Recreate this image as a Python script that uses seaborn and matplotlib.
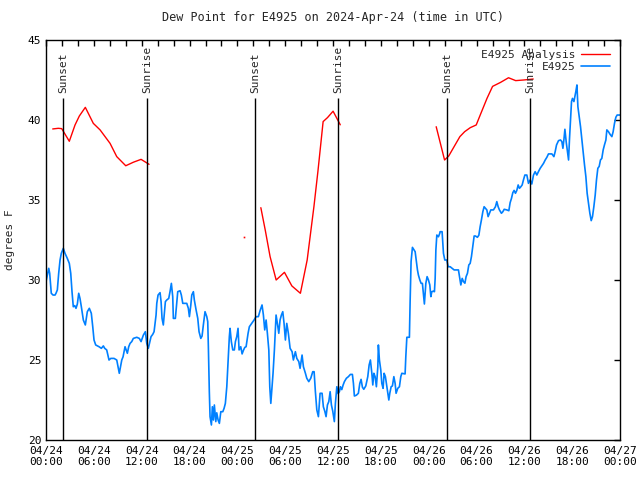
import pandas as pd
import matplotlib.pyplot as plt
import matplotlib.dates as mdates
from matplotlib.lines import Line2D
import seaborn as sns

# Observed dew point for E4925 (hours after 2024-04-24 00:00 UTC, degrees F)
obs_hours = [0.00, 0.34, 0.46, 0.66, 0.88, 1.13, 1.25, 1.42, 1.59, 1.76, 1.92, 2.17, 2.38, 2.67,
             2.92, 3.10, 3.26, 3.42, 3.60, 3.76, 3.93, 4.10, 4.26, 4.43, 4.68, 4.93, 5.18, 5.43,
             5.68, 5.86, 6.02, 6.23, 6.65, 6.94, 7.19, 7.36, 7.61, 7.90, 8.12, 8.53, 8.87, 9.19,
             9.50, 9.66, 9.91, 10.20, 10.37, 10.54, 10.75, 10.95, 11.38, 11.70, 11.92, 12.21,
             12.46, 12.63, 12.83, 13.17, 13.38, 13.55, 13.67, 13.80, 13.89, 14.05, 14.30, 14.43,
             14.55, 14.71, 14.80, 14.97, 15.14, 15.39, 15.55, 15.72, 15.89, 15.97, 16.22, 16.39,
             16.52, 16.81, 16.97, 17.15, 17.65, 17.85, 17.98, 18.15, 18.28, 18.48, 18.60, 18.82,
             19.03, 19.19, 19.41, 19.57, 19.73, 19.94, 20.16, 20.28, 20.36, 20.48, 20.57, 20.74,
             20.86, 20.99, 21.11, 21.29, 21.41, 21.58, 21.74, 21.92, 22.17, 22.33, 22.49, 22.67,
             22.83, 22.99, 23.08, 23.24, 23.42, 23.62, 23.75, 23.92, 24.08, 24.21, 24.42, 24.59,
             24.75, 24.93, 25.09, 25.34, 25.50, 25.80, 26.09, 26.34, 26.63, 26.84, 27.09, 27.26,
             27.43, 27.60, 27.76, 27.94, 28.06, 28.19, 28.31, 28.47, 28.64, 28.85, 29.01, 29.19,
             29.35, 29.52, 29.69, 29.85, 30.02, 30.19, 30.39, 30.61, 30.86, 31.02, 31.27, 31.45,
             31.70, 31.86, 32.11, 32.28, 32.53, 32.70, 32.95, 33.20, 33.45, 33.62, 33.78, 33.96,
             34.16, 34.37, 34.62, 34.78, 34.96, 35.12, 35.29, 35.46, 35.63, 35.79, 35.96, 36.16,
             36.29, 36.47, 36.63, 36.79, 36.92, 37.09, 37.26, 37.42, 37.67, 37.92, 38.17, 38.42,
             38.55, 38.67, 38.92, 39.17, 39.35, 39.51, 39.68, 39.85, 40.10, 40.35, 40.52, 40.68,
             40.86, 40.98, 41.11, 41.27, 41.43, 41.61, 41.68, 41.81, 41.98, 42.11, 42.27, 42.40,
             42.56, 42.74, 42.86, 42.99, 43.11, 43.28, 43.44, 43.62, 43.78, 43.90, 44.11, 44.32,
             44.49, 44.62, 45.03, 45.12, 45.25, 45.57, 45.66, 45.78, 45.95, 46.12, 46.29, 46.45,
             46.58, 46.70, 46.88, 47.04, 47.20, 47.38, 47.45, 47.63, 47.79, 47.96, 48.13, 48.26,
             48.38, 48.55, 48.71, 48.80, 48.89, 49.01, 49.21, 49.38, 49.42, 49.67, 49.84, 50.01,
             50.26, 50.43, 50.68, 50.93, 51.18, 51.43, 51.72, 51.85, 52.02, 52.19, 52.35, 52.53,
             52.68, 52.85, 53.02, 53.19, 53.35, 53.52, 53.69, 53.85, 54.10, 54.28, 54.44, 54.60,
             54.78, 54.94, 55.11, 55.28, 55.44, 55.61, 55.78, 56.11, 56.36, 56.53, 56.70, 56.86,
             57.11, 57.29, 57.46, 57.79, 58.04, 58.20, 58.37, 58.54, 58.70, 58.87, 59.04, 59.21,
             59.37, 59.55, 59.71, 59.87, 60.05, 60.30, 60.50, 60.71, 60.92, 61.13, 61.34, 61.55,
             61.75, 61.97, 62.18, 62.39, 62.60, 62.81, 63.01, 63.44, 63.69, 63.85, 64.02, 64.27,
             64.52, 64.69, 64.82, 64.95, 65.07, 65.24, 65.36, 65.53, 65.65, 65.77, 65.90, 66.02,
             66.20, 66.32, 66.45, 66.58, 66.70, 66.86, 67.03, 67.20, 67.36, 67.53, 67.70, 67.86,
             68.03, 68.20, 68.37, 68.53, 68.70, 68.87, 69.03, 69.20, 69.37, 69.53, 69.70, 69.87,
             70.03, 70.21, 70.33, 70.53, 70.74, 70.96, 71.12, 71.29, 71.46, 71.62, 72.00]
obs_dewpt = [29.9, 30.73, 30.42, 29.17, 29.06, 29.06, 29.17, 29.38, 30.42, 31.25, 31.67, 31.98, 31.67, 31.35,
             31.04, 30.42, 29.27, 28.33, 28.4, 28.23, 28.5, 29.17, 28.85, 28.33, 27.5, 27.19, 28.02, 28.23,
             27.92, 27.08, 26.25, 25.94, 25.83, 25.73, 25.88, 25.73, 25.63, 25.0, 25.1, 25.1, 25.0, 24.17,
             25.0, 25.2, 25.83, 25.42, 25.83, 26.04, 26.15, 26.35, 26.42, 26.35, 26.15, 26.56,
             26.77, 26.04, 25.73, 26.46, 26.6, 26.77, 27.29, 27.81, 28.54, 29.06, 29.21, 28.65,
             27.6, 27.19, 27.7, 28.65, 28.75, 28.85, 29.27, 29.79, 28.96, 27.6, 27.6, 28.54,
             29.27, 29.33, 29.06, 28.54, 28.54, 28.23, 27.71, 28.4, 29.06, 29.27, 28.75, 28.13,
             27.6, 26.77, 26.35, 26.5, 27.19, 28.02, 27.71, 27.4, 25.83, 23.02, 21.46, 20.94,
             22.08, 21.25, 22.19, 21.15, 21.7, 21.25, 21.04, 21.77, 21.77, 21.98, 22.29, 23.33,
             24.9, 26.46, 26.98, 26.15, 25.63, 25.63, 26.15, 26.46, 26.98, 25.63, 25.83, 25.38,
             25.6, 25.79, 25.83, 26.67, 27.08, 27.29, 27.5, 27.71, 27.71, 28.08, 28.44, 27.81,
             26.88, 27.5, 26.67, 25.63, 23.33, 22.29, 23.1, 24.17, 25.63, 27.81, 27.3, 26.67,
             27.5, 27.81, 28.02, 27.29, 26.25, 27.29, 26.67, 25.73, 25.52, 25.0, 25.52, 25.1,
             24.9, 24.48, 25.31, 24.58, 24.17, 23.86, 23.65, 23.86, 24.27, 24.27, 23.02, 21.88,
             21.46, 22.92, 22.92, 22.08, 21.8, 21.46, 22.19, 22.4, 23.02, 22.19, 21.8, 21.15,
             22.29, 23.33, 22.9, 23.02, 23.33, 23.15, 23.44, 23.65, 23.86, 23.96, 24.1, 24.1,
             23.54, 22.75, 22.8, 22.92, 23.54, 23.79, 23.3, 23.17, 23.38, 23.96, 24.69, 25.0,
             24.17, 23.44, 24.17, 23.96, 23.33, 24.58, 25.94, 25.0, 24.38, 23.54, 23.23, 24.17,
             23.96, 23.33, 22.92, 22.5, 22.92, 23.33, 23.38, 23.96, 23.54, 22.92, 23.23, 23.33,
             23.96, 24.17, 24.13, 25.21, 26.42, 26.42, 28.65, 31.15, 32.04, 31.9, 31.77, 31.15,
             30.63, 30.31, 30.0, 29.79, 29.79, 28.85, 28.5, 29.79, 30.21, 30.0, 29.69, 28.96,
             29.27, 29.3, 29.27, 30.1, 31.88, 32.81, 32.7, 32.92, 33.02, 33.02, 31.67, 31.25,
             31.25, 30.83, 30.83, 30.73, 30.63, 30.63, 30.63, 30.21, 29.69, 30.1, 29.9, 29.8,
             30.21, 30.42, 30.94, 31.04, 31.46, 32.08, 32.75, 32.75, 32.67, 32.8, 33.33, 33.75,
             34.27, 34.58, 34.48, 34.38, 33.96, 34.17, 34.38, 34.38, 34.58, 34.9, 34.58, 34.38,
             34.17, 34.27, 34.42, 34.38, 34.33, 34.83, 35.1, 35.46, 35.6, 35.42, 35.6, 35.94,
             35.73, 35.83, 35.94, 36.25, 36.56, 36.56, 36.04, 36.25, 36.0, 36.56, 36.77, 36.56,
             36.77, 36.98, 37.13, 37.29, 37.5, 37.67, 37.88, 37.88, 37.71, 38.02, 38.44, 38.71,
             38.75, 38.65, 38.23, 38.79, 39.42, 38.6, 38.13, 37.5, 38.85, 40.0, 41.15, 41.35,
             41.15, 41.46, 41.8, 42.19, 40.83, 40.21, 39.58, 38.75, 37.92, 37.19, 36.46, 35.42,
             34.79, 34.17, 33.71, 33.96, 34.58, 35.31, 36.25, 36.98, 37.1, 37.5, 37.6, 38.13,
             38.44, 38.75, 39.38, 39.27, 39.1, 38.96, 39.27, 39.79, 40.17, 40.31, 40.31]

# Analysis runs (three separate segments plus one lone point)
ana1_hours = [0.84, 1.54, 1.97, 2.92, 3.64, 4.18, 4.93, 5.93, 6.78, 8.03, 8.87, 10.0, 10.95, 11.92, 12.92]
ana1_dewpt = [39.44, 39.48, 39.46, 38.67, 39.69, 40.25, 40.79, 39.79, 39.38, 38.54, 37.71, 37.14, 37.36, 37.54, 37.23]
ana2_hours = [26.94, 27.5, 28.1, 28.86, 29.9, 30.83, 31.9, 32.75, 33.6, 34.1, 34.75, 35.3, 36.0, 36.9]
ana2_dewpt = [34.52, 33.1, 31.46, 30.0, 30.48, 29.63, 29.17, 31.25, 34.6, 36.8, 39.9, 40.15, 40.55, 39.7]
ana3_hours = [48.93, 49.98, 50.5, 51.9, 52.5, 53.2, 53.95, 54.45, 55.3, 56.0, 57.0, 58.0, 58.9, 59.9, 61.1]
ana3_dewpt = [39.58, 37.5, 37.75, 38.96, 39.27, 39.52, 39.69, 40.31, 41.35, 42.1, 42.35, 42.64, 42.46, 42.5, 42.56]
lone_hour = [24.84]
lone_dewpt = [32.7]

# Sunset / sunrise markers (hours)
sun_hours = [2.17, 12.71, 26.26, 36.67, 50.34, 60.75]
sun_labels = ['Sunset', 'Sunrise', 'Sunset', 'Sunrise', 'Sunset', 'Sunrise']

base = pd.Timestamp('2024-04-24 00:00')
to_time = lambda h: base + pd.to_timedelta(h, unit='h')

obs = pd.DataFrame({'time': to_time(obs_hours), 'dewpt': obs_dewpt})
ana = pd.concat([
    pd.DataFrame({'time': to_time(ana1_hours), 'dewpt': ana1_dewpt, 'run': 1}),
    pd.DataFrame({'time': to_time(ana2_hours), 'dewpt': ana2_dewpt, 'run': 2}),
    pd.DataFrame({'time': to_time(ana3_hours), 'dewpt': ana3_dewpt, 'run': 3}),
])

red = '#ff0000'
blue = '#0080ff'

sns.set_style('white')
plt.rcParams['font.family'] = ['DejaVu Sans Mono']

fig, ax = plt.subplots(figsize=(6.4, 4.8), dpi=100)
fig.subplots_adjust(left=0.0719, right=0.969, top=0.9167, bottom=0.0833)

sns.lineplot(data=ana, x='time', y='dewpt', units='run', estimator=None,
             color=red, lw=1, ax=ax, legend=False)
sns.lineplot(data=obs, x='time', y='dewpt', color=blue, lw=1.2, ax=ax, legend=False)
ax.plot(to_time(lone_hour), lone_dewpt, 's', color=red, ms=1.2, mew=0)

for h, lab in zip(sun_hours, sun_labels):
    t = to_time(h)
    ax.vlines(t, 20, 41.375, color='black', lw=1)
    ax.text(t, 41.7, lab, rotation=90, ha='center', va='bottom', fontsize=8)

ax.set_xlim(base, base + pd.Timedelta(hours=72))
ax.set_ylim(20, 45)
ax.set_yticks([20, 25, 30, 35, 40, 45])
ax.xaxis.set_major_locator(mdates.HourLocator(byhour=[0, 6, 12, 18]))
ax.xaxis.set_minor_locator(mdates.HourLocator(byhour=range(0, 24, 2)))
ax.xaxis.set_major_formatter(mdates.DateFormatter('%m/%d\n%H:%M'))
ax.tick_params(which='both', direction='in', top=True, right=True, length=4, width=1,
               labelsize=8, colors='black')
ax.tick_params(axis='x', pad=4)

for s in ax.spines.values():
    s.set_color('black')
    s.set_linewidth(1)

ax.set_xlabel('')
ax.set_ylabel('degrees F', fontsize=8, labelpad=9)
ax.set_title('Dew Point for E4925 on 2024-Apr-24 (time in UTC)', fontsize=8.5, pad=14)

handles = [Line2D([], [], color=red, lw=1), Line2D([], [], color=blue, lw=1.2)]
ax.legend(handles, ['E4925 Analysis', 'E4925'], loc='upper right', frameon=False,
          markerfirst=False, fontsize=8, handlelength=2.6, handletextpad=0.5,
          labelspacing=0.15, borderaxespad=0.5)

plt.savefig('out.png', dpi=100)
